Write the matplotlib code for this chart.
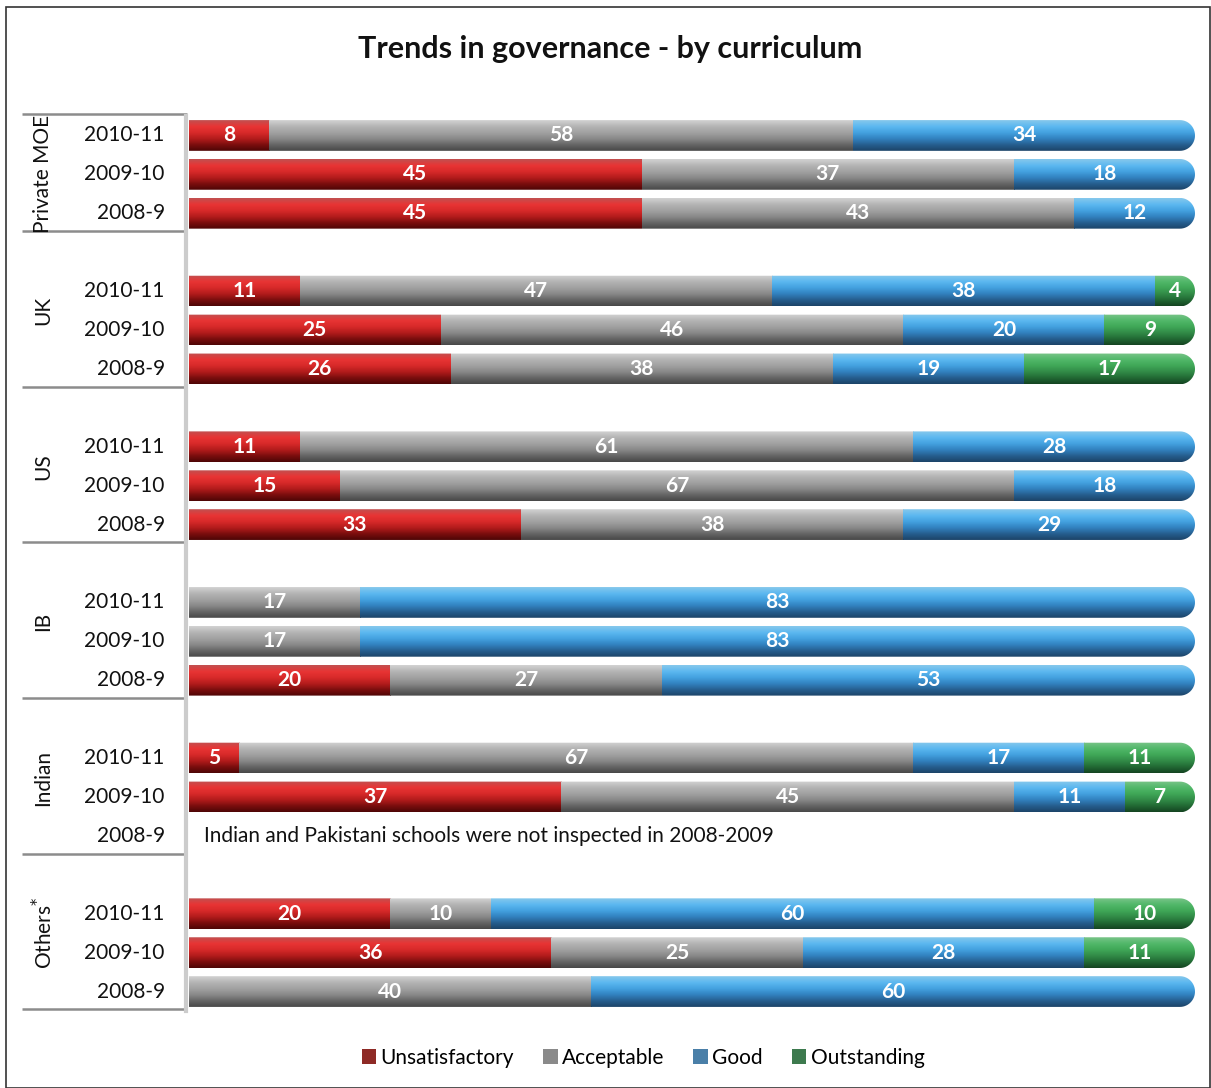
import numpy as np
import matplotlib
matplotlib.use("Agg")
import matplotlib.pyplot as plt
from matplotlib.colors import LinearSegmentedColormap
from matplotlib.patches import Patch, PathPatch, Rectangle
from matplotlib.path import Path

plt.rcParams['font.family'] = ['Lato', 'DejaVu Sans']

# ---------------- data ----------------
groups = ["Private MOE", "UK", "US", "IB", "Indian", r"Others$^{*}$"]
years = ["2010-11", "2009-10", "2008-9"]
categories = ["Unsatisfactory", "Acceptable", "Good", "Outstanding"]

private_moe = [[8, 58, 34, 0], [45, 37, 18, 0], [45, 43, 12, 0]]
uk = [[11, 47, 38, 4], [25, 46, 20, 9], [26, 38, 19, 17]]
us = [[11, 61, 28, 0], [15, 67, 18, 0], [33, 38, 29, 0]]
ib = [[0, 17, 83, 0], [0, 17, 83, 0], [20, 27, 53, 0]]
indian = [[5, 67, 17, 11], [37, 45, 11, 7], None]
others = [[20, 10, 60, 10], [36, 25, 28, 11], [0, 40, 60, 0]]
group_values = [private_moe, uk, us, ib, indian, others]
indian_note = "Indian and Pakistani schools were not inspected in 2008-2009"

# ---------------- styles ----------------
grad_colors = {
    "Unsatisfactory": ["#c25050", "#e83434", "#d82a2a", "#b41c1c", "#7c0e0e", "#4e0606"],
    "Acceptable":     ["#d2d2d2", "#b4b4b4", "#a2a2a2", "#8a8a8a", "#666666", "#484848"],
    "Good":           ["#86c8ec", "#5cb8f0", "#44a2e0", "#3282c0", "#265f90", "#1c4468"],
    "Outstanding":    ["#78c488", "#52b86a", "#40a858", "#328c48", "#226a34", "#154522"],
}
legend_colors = {"Unsatisfactory": "#8e2a26", "Acceptable": "#8a8a8a",
                 "Good": "#4a7fa8", "Outstanding": "#3d7a4e"}
cmaps = {k: LinearSegmentedColormap.from_list(k, v) for k, v in grad_colors.items()}
grad = np.linspace(0, 1, 64).reshape(-1, 1)

W, H = 1211, 1088
fig = plt.figure(figsize=(W / 100, H / 100), dpi=100)
fig.patch.set_facecolor("white")

ax_left, ax_right = 189, 1195
ax_top, ax_bot = 116, 1011
ax = fig.add_axes([ax_left / W, 1 - ax_bot / H, (ax_right - ax_left) / W, (ax_bot - ax_top) / H])

bar_h = 0.79
rx = 1.5  # rounded end radius in x data units

for g, (gname, rows) in enumerate(zip(groups, group_values)):
    for r, (yr, vals) in enumerate(zip(years, rows if rows is not None else [None] * 3)):
        y = 4 * g + 1 + r
        ax.text(-2.4, y, yr, ha="right", va="center", fontsize=15, color="#111111", clip_on=False)
        if vals is None:
            ax.text(1.5, y, indian_note, ha="left", va="center", fontsize=15, color="#111111")
            continue
        top, bot = y - bar_h / 2, y + bar_h / 2
        t = np.linspace(-np.pi / 2, np.pi / 2, 30)
        cx = 100 - rx
        arc = np.column_stack([cx + rx * np.cos(t), y + (bar_h / 2) * np.sin(t)])
        verts = np.vstack([[[0, bot]], [[0, top]], [[cx, top]], arc, [[cx, bot]], [[0, bot]]])
        clip = PathPatch(Path(verts), transform=ax.transData, facecolor="none", edgecolor="none")
        ax.add_patch(clip)
        left = 0
        for cat, v in zip(categories, vals):
            if v <= 0:
                continue
            im = ax.imshow(grad, cmap=cmaps[cat], aspect="auto", interpolation="bilinear",
                           extent=(left, left + v, bot, top), origin="upper", zorder=2)
            im.set_clip_path(clip)
            ax.text(left + v / 2, y, str(v), ha="center", va="center", fontsize=15,
                    fontweight="bold", color="white", zorder=3)
            left += v
    ax.text(-14.5, 4 * g + 2 if g == 0 else 4 * g + 1.5, gname, rotation=90, ha="center",
            va="center", fontsize=15, color="#111111", clip_on=False)

# separator lines
for yb in [0.5] + [4 * g + 3.5 for g in range(len(groups))]:
    ax.plot([-16.6, -0.2], [yb - 0.04, yb - 0.04], color="#8c8c8c", lw=1.8, clip_on=False,
            solid_capstyle="butt")

ax.set_xlim(0, 100)
ax.set_ylim(23.5, 0.5)
ax.set_xticks([])
ax.set_yticks([])
for s in ["top", "right", "bottom"]:
    ax.spines[s].set_visible(False)
ax.spines["left"].set_color("#cccccc")
ax.spines["left"].set_linewidth(3)
ax.spines["left"].set_position(("outward", 2))
ax.patch.set_alpha(0)

fig.text(610 / W, 1 - 49 / H, "Trends in governance - by curriculum", ha="center", va="center",
         fontsize=22, fontweight="bold", color="#111111")

handles = [Patch(facecolor=legend_colors[c], edgecolor="none", label=c) for c in categories]
fig.legend(handles=handles, loc="center", bbox_to_anchor=(643 / W, 1 - 1058 / H), ncol=4,
           frameon=False, fontsize=15, handlelength=0.7, handleheight=0.7, handletextpad=0.2,
           columnspacing=1.4)

fig.add_artist(Rectangle((6 / W, 0.5 / H), (1210 - 6) / W, (1088 - 7.5) / H, transform=fig.transFigure,
                         fill=False, edgecolor="#333333", lw=1.2))

fig.savefig("out.png", dpi=100)
